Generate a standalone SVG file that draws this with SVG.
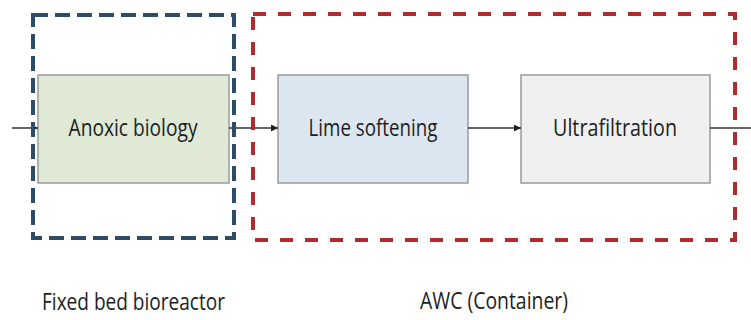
<svg xmlns="http://www.w3.org/2000/svg" width="751" height="320" viewBox="0 0 751 320">
  <defs>
    <marker id="arrow" viewBox="0 0 10 10" refX="10" refY="5" markerWidth="7" markerHeight="7" markerUnits="userSpaceOnUse" orient="auto">
      <path d="M0,0 L10,5 L0,10 z" fill="#222"/>
    </marker>
    <style>
      .box { stroke: #9a9a9a; stroke-width: 1.5; }
      .label { font-family: "Open Sans", "Liberation Sans", sans-serif; font-size: 24px; fill: #1e1e1e; text-anchor: middle; }
      .caption { font-family: "Open Sans", "Liberation Sans", sans-serif; font-size: 24px; fill: #1e1e1e; }
      .conn { stroke: #333; stroke-width: 1.5; fill: none; }
      .zone-blue { fill: none; stroke: #2e4b68; stroke-width: 4; stroke-dasharray: 15 7; }
      .zone-red { fill: none; stroke: #b32a2c; stroke-width: 4; stroke-dasharray: 13 12; }
    </style>
  </defs>

  <rect width="751" height="320" fill="#ffffff"/>

  <!-- process boxes -->
  <g id="anoxic-biology">
    <rect class="box" x="38" y="75" width="191" height="108" fill="#dfe9d5"/>
    <text class="label" x="133" y="136" textLength="129" lengthAdjust="spacingAndGlyphs">Anoxic biology</text>
  </g>
  <g id="lime-softening">
    <rect class="box" x="278" y="75" width="190" height="108" fill="#dce6f1"/>
    <text class="label" x="373" y="136" textLength="129" lengthAdjust="spacingAndGlyphs">Lime softening</text>
  </g>
  <g id="ultrafiltration">
    <rect class="box" x="521" y="75" width="189" height="108" fill="#f0f0f0"/>
    <text class="label" x="615" y="136" textLength="124" lengthAdjust="spacingAndGlyphs">Ultrafiltration</text>
  </g>

  <!-- connectors -->
  <g id="connectors">
    <line class="conn" x1="12" y1="128" x2="38" y2="128" marker-end="url(#arrow)"/>
    <line class="conn" x1="229" y1="128" x2="278" y2="128" marker-end="url(#arrow)"/>
    <line class="conn" x1="468" y1="128" x2="521" y2="128" marker-end="url(#arrow)"/>
    <line class="conn" x1="710" y1="128" x2="751" y2="128"/>
  </g>

  <!-- dashed system boundaries -->
  <g id="fixed-bed-bioreactor">
    <rect class="zone-blue" x="33" y="15" width="201" height="223"/>
    <text class="caption" x="42" y="310" textLength="183" lengthAdjust="spacingAndGlyphs">Fixed bed bioreactor</text>
  </g>
  <g id="awc-container">
    <rect class="zone-red" x="253" y="14" width="482" height="226"/>
    <text class="caption" x="420" y="309" textLength="148" lengthAdjust="spacingAndGlyphs">AWC (Container)</text>
  </g>
</svg>
